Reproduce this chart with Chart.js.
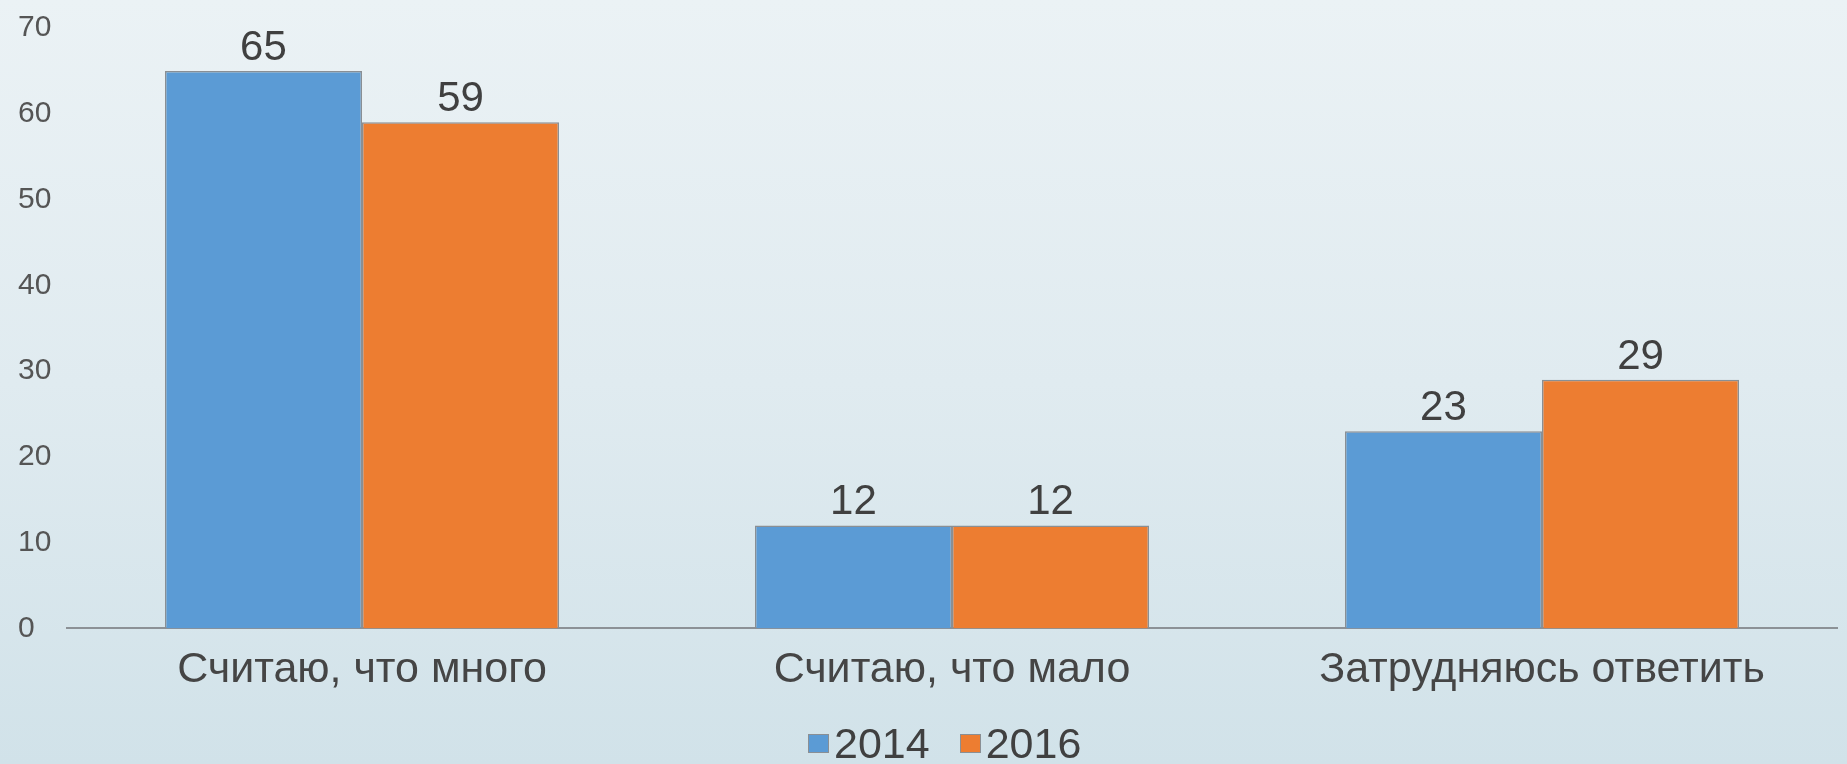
<!DOCTYPE html>
<html>
<head>
<meta charset="utf-8">
<script src="https://cdn.jsdelivr.net/npm/chart.js@4.4.0/dist/chart.umd.min.js"></script>
<style>
  html, body { margin: 0; padding: 0; }
  body {
    width: 1847px; height: 764px; overflow: hidden;
    background: linear-gradient(to bottom, #ebf2f5 0%, #e0ebf0 50%, #d1e2e9 100%);
    font-family: "Liberation Sans", Arial, sans-serif;
  }
  #wrap { position: relative; width: 1847px; height: 764px; }
  canvas { display: block; }
  #legend {
    position: absolute; left: 808px; top: 722px;
    display: flex; align-items: center;
    font-size: 43px; line-height: 43px; color: #404040;
  }
  #legend .item { display: flex; align-items: center; margin-right: 30px; }
  #legend .box { width: 19px; height: 17px; margin-right: 5px; border: 0.5px solid #8a8f94; }
</style>
</head>
<body>
<div id="wrap">
  <canvas id="answers" width="1847" height="764"></canvas>
  <div id="legend"></div>
</div>
<script>
const categories = ['Считаю, что много', 'Считаю, что мало', 'Затрудняюсь ответить']
const years = ['2014', '2016']
const values2014 = [65, 12, 23]
const values2016 = [59, 12, 29]
const yTicks = [0, 10, 20, 30, 40, 50, 60, 70]

const ctx = document.getElementById('answers');

// value labels above the bars
const barValues = {
  id: 'barValues',
  afterDatasetsDraw(chart) {
    const c = chart.ctx
    c.save()
    c.font = '42px "Liberation Sans", Arial, sans-serif'
    c.fillStyle = '#404040'
    c.textAlign = 'center'
    c.textBaseline = 'alphabetic'
    chart.data.datasets.forEach((ds, i) => {
      chart.getDatasetMeta(i).data.forEach((bar, j) => {
        c.fillText(ds.data[j], bar.x, bar.y - 11)
      })
    })
    c.restore()
  }
}

const chartAnswers = new Chart(ctx, {
  type: 'bar',
  data: {
    labels: categories,
    datasets: [
      {
        label: years[0],
        data: values2014,
        backgroundColor: '#5b9bd5',
        borderColor: '#8a8f94',
        borderWidth: 1.5,
        borderSkipped: 'bottom'
      },
      {
        label: years[1],
        data: values2016,
        backgroundColor: '#ed7d31',
        borderColor: '#8a8f94',
        borderWidth: 1.5,
        borderSkipped: 'bottom'
      }
    ]
  },
  options: {
    responsive: false,
    animation: false,
    layout: {
      padding: { left: 18, right: 10, top: 28, bottom: 52 }
    },
    datasets: {
      bar: { categoryPercentage: 0.668, barPercentage: 1 }
    },
    scales: {
      x: {
        grid: { display: false, drawTicks: false },
        border: { display: true, color: '#8c9196', width: 2 },
        ticks: {
          padding: 16,
          color: '#454545',
          font: { family: '"Liberation Sans", Arial, sans-serif', size: 43 }
        }
      },
      y: {
        min: 0,
        max: 70,
        afterBuildTicks(scale) {
          scale.ticks = yTicks.map(v => ({ value: v }))
        },
        afterFit(scale) {
          scale.width = 49
        },
        grid: { display: false, drawTicks: false },
        border: { display: false },
        ticks: {
          crossAlign: 'far',
          color: '#555555',
          font: { family: '"Liberation Sans", Arial, sans-serif', size: 30 }
        }
      }
    },
    plugins: {
      legend: { display: false },
      tooltip: { enabled: false }
    }
  },
  plugins: [barValues]
});

// html legend, items taken from the chart
const legendBox = document.getElementById('legend')
const items = chartAnswers.options.plugins.legend.labels.generateLabels(chartAnswers)
for (const it of items) {
  const row = document.createElement('div')
  row.className = 'item'
  const sw = document.createElement('span')
  sw.className = 'box'
  sw.style.background = it.fillStyle
  const tx = document.createElement('span')
  tx.textContent = it.text
  row.appendChild(sw)
  row.appendChild(tx)
  legendBox.appendChild(row)
}
</script>
</body>
</html>
